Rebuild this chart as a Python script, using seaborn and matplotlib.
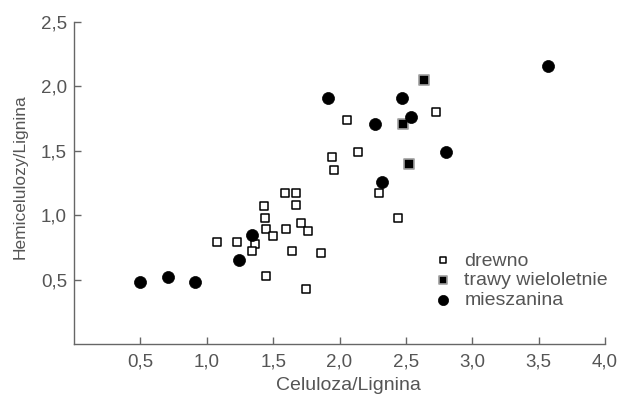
import matplotlib

matplotlib.use("Agg")
import matplotlib.pyplot as plt
import pandas as pd
import seaborn as sns

# values (Celuloza/Lignina vs Hemicelulozy/Lignina)
drewno_x = [1.94, 2.14, 1.96, 2.30, 1.59, 1.67, 1.67, 1.43, 1.44, 1.71, 1.45, 1.60, 1.76,
            1.50, 1.08, 1.23, 1.36, 1.34, 1.64, 1.86, 1.45, 1.75, 2.06, 2.73, 2.44]
drewno_y = [1.45, 1.49, 1.35, 1.17, 1.17, 1.17, 1.08, 1.07, 0.98, 0.94, 0.89, 0.89, 0.88,
            0.84, 0.79, 0.79, 0.78, 0.72, 0.72, 0.71, 0.53, 0.43, 1.74, 1.80, 0.98]
trawy_x = [2.64, 2.48, 2.52]
trawy_y = [2.05, 1.71, 1.40]
miesz_x = [0.50, 0.71, 0.91, 1.24, 1.34, 1.91, 2.27, 2.32, 2.47, 2.54, 2.80, 3.57]
miesz_y = [0.48, 0.52, 0.48, 0.65, 0.85, 1.91, 1.71, 1.26, 1.91, 1.76, 1.49, 2.16]

x_ticks = [0.5, 1.0, 1.5, 2.0, 2.5, 3.0, 3.5, 4.0]
x_labels = ["0,5", "1,0", "1,5", "2,0", "2,5", "3,0", "3,5", "4,0"]
y_ticks = [0.5, 1.0, 1.5, 2.0, 2.5]
y_labels = ["0,5", "1,0", "1,5", "2,0", "2,5"]

TEXT = "#555555"
SPINE = "#666666"

sns.set_style("ticks")
plt.rcParams["font.family"] = ["Liberation Sans", "DejaVu Sans"]

df = pd.concat([
    pd.DataFrame({"x": drewno_x, "y": drewno_y, "grupa": "drewno"}),
    pd.DataFrame({"x": trawy_x, "y": trawy_y, "grupa": "trawy wieloletnie"}),
    pd.DataFrame({"x": miesz_x, "y": miesz_y, "grupa": "mieszanina"}),
])

styles = {
    "drewno": dict(marker="s", s=30, facecolor="white", edgecolor="black", linewidth=1.1),
    "trawy wieloletnie": dict(marker="s", s=55, facecolor="black", edgecolor="#a0a0a0", linewidth=1.2),
    "mieszanina": dict(marker="o", s=75, facecolor="black", edgecolor="black", linewidth=0.5),
}

fig = plt.figure(figsize=(6.41, 3.94), dpi=100)
ax = fig.add_axes([74 / 641, 1 - 344 / 394, 531 / 641, 322 / 394])

for name, st in styles.items():
    sub = df[df["grupa"] == name]
    sns.scatterplot(data=sub, x="x", y="y", ax=ax, label=name, zorder=3, **st)

ax.set_xlim(0, 4.0)
ax.set_ylim(0, 2.5)
ax.set_xticks(x_ticks)
ax.set_xticklabels(x_labels)
ax.set_yticks(y_ticks)
ax.set_yticklabels(y_labels)
ax.tick_params(direction="in", length=5, width=1, colors=SPINE, labelcolor=TEXT, labelsize=13.5)
ax.tick_params(axis="x", pad=7)
ax.tick_params(axis="y", pad=5)

sns.despine(ax=ax)
for side in ("left", "bottom"):
    ax.spines[side].set_color(SPINE)
    ax.spines[side].set_linewidth(1)

ax.set_xlabel("Celuloza/Lignina", fontsize=14, color=TEXT)
ax.set_ylabel("Hemicelulozy/Lignina", fontsize=12.5, color=TEXT)
ax.xaxis.set_label_coords(0.516, -0.102)
ax.yaxis.set_label_coords(-0.088, 0.52)

leg = ax.legend(frameon=False, loc="upper left", bbox_to_anchor=(0.662, 0.31),
                fontsize=14, handlelength=1.0, handletextpad=0.6, labelspacing=0.1,
                borderaxespad=0, markerscale=0.85)
for txt in leg.get_texts():
    txt.set_color(TEXT)

fig.savefig("out.png", dpi=100)
